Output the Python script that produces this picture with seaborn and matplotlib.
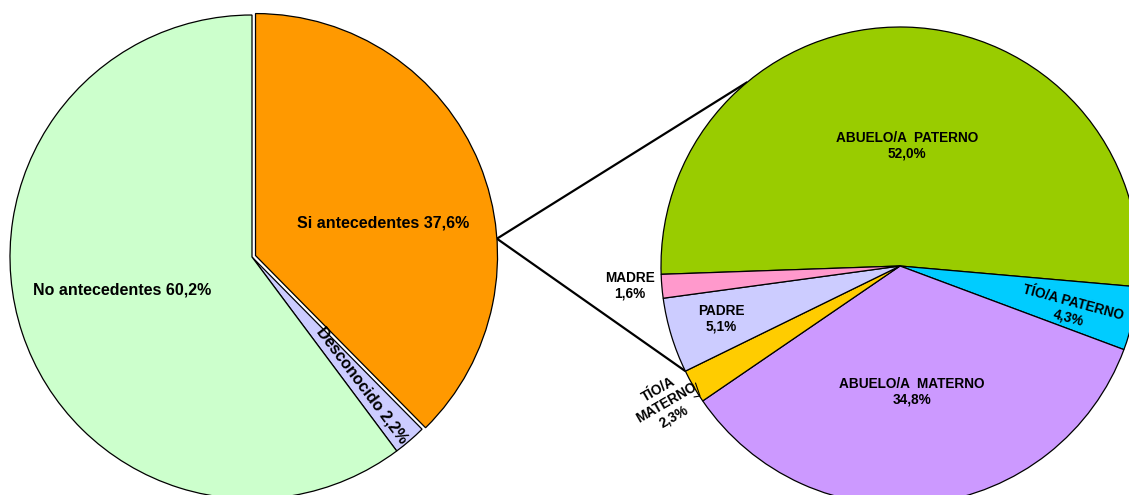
import numpy as np
import matplotlib
matplotlib.use("Agg")
import matplotlib.pyplot as plt
import seaborn as sns

# Main breakdown (left pie), clockwise from 12 o'clock
main_labels = ["Si antecedentes", "Desconocido", "No antecedentes"]
main_values = [37.6, 2.2, 60.2]
main_colors = ["#FF9900", "#CCCCFF", "#CCFFCC"]

# Detail of "Si antecedentes" (right pie), clockwise
detail_labels = ["ABUELO/A  PATERNO", "TÍO/A PATERNO", "ABUELO/A  MATERNO",
                 "TÍO/A\nMATERNO", "PADRE", "MADRE"]
detail_values = [52.0, 4.3, 34.8, 2.3, 5.1, 1.6]
detail_colors = ["#99CC00", "#00CCFF", "#CC99FF", "#FFCC00", "#CCCCFF", "#FF99CC"]

W, H = 1129, 495


def pct(v):
    return f"{v:.1f}".replace(".", ",") + "%"


sns.set_style("white")
plt.rcParams["font.family"] = ["Liberation Sans", "DejaVu Sans"]

fig = plt.figure(figsize=(W / 100, H / 100), dpi=100)
ax = fig.add_axes([0, 0, 1, 1])

# geometry in pixel-like data units (y up)
c1, r1 = (252.0, H - 257.0), 242.0
c2, r2 = (900.0, H - 266.0), 239.0
edge = dict(edgecolor="black", linewidth=0.9)

# explode offset is in data units
w1, _ = ax.pie(main_values, colors=main_colors, startangle=90, counterclock=False,
               explode=[3.8, 0, 0], center=c1, radius=r1, wedgeprops=edge,
               frame=True)
w2, _ = ax.pie(detail_values, colors=detail_colors, startangle=182, counterclock=False,
               center=c2, radius=r2, wedgeprops=edge, frame=True)

ax.set_xlim(0, W)
ax.set_ylim(0, H)
ax.set_aspect("equal")
ax.axis("off")

# connector lines from the exploded wedge to the detail pie
si = w1[0]
sc = si.center
p0 = (sc[0] + si.r * np.cos(np.radians(4.0)), sc[1] + si.r * np.sin(np.radians(4.0)))
low_ang = w2[3].theta1  # boundary between TÍO/A MATERNO and PADRE
for ang in (129.7, low_ang):
    p1 = (c2[0] + r2 * np.cos(np.radians(ang)), c2[1] + r2 * np.sin(np.radians(ang)))
    ax.plot([p0[0], p1[0]], [p0[1], p1[1]], color="black", lw=1.6,
            solid_capstyle="butt", zorder=0.5)

big = dict(fontsize=11.5, fontweight="bold", ha="center", va="center", color="black")
small = dict(fontsize=9.8, fontweight="bold", ha="center", va="center", color="black",
             linespacing=1.15)

ax.text(383, H - 223, f"{main_labels[0]} {pct(main_values[0])}", **big)
ax.text(122, H - 290, f"{main_labels[2]} {pct(main_values[2])}", **big)

# radial label inside the thin "Desconocido" wedge
wd = w1[1]
mid = np.radians((wd.theta1 + wd.theta2) / 2)
ax.text(c1[0] + 0.70 * r1 * np.cos(mid), c1[1] + 0.70 * r1 * np.sin(mid),
        f"{main_labels[1]} {pct(main_values[1])}", rotation=-53,
        rotation_mode="anchor", **big)

ax.text(907, H - 146, f"{detail_labels[0]}\n{pct(detail_values[0])}", **small)
ax.text(1071, H - 310, f"{detail_labels[1]}\n{pct(detail_values[1])}", rotation=-15, **small)
ax.text(912, H - 392, f"{detail_labels[2]}\n{pct(detail_values[2])}", **small)
ax.text(666, H - 403, f"{detail_labels[3]}\n{pct(detail_values[3])}", rotation=30, **small)
ax.text(721, H - 319, f"{detail_labels[4]}\n{pct(detail_values[4])}", **small)
ax.text(630, H - 286, f"{detail_labels[5]}\n{pct(detail_values[5])}", **small)

# short leader for the TÍO/A MATERNO label
ax.plot([695.5, 700, 694], [H - 383, H - 396, H - 397], color="black", lw=0.8)

fig.savefig("out.png", dpi=100, facecolor="white")
